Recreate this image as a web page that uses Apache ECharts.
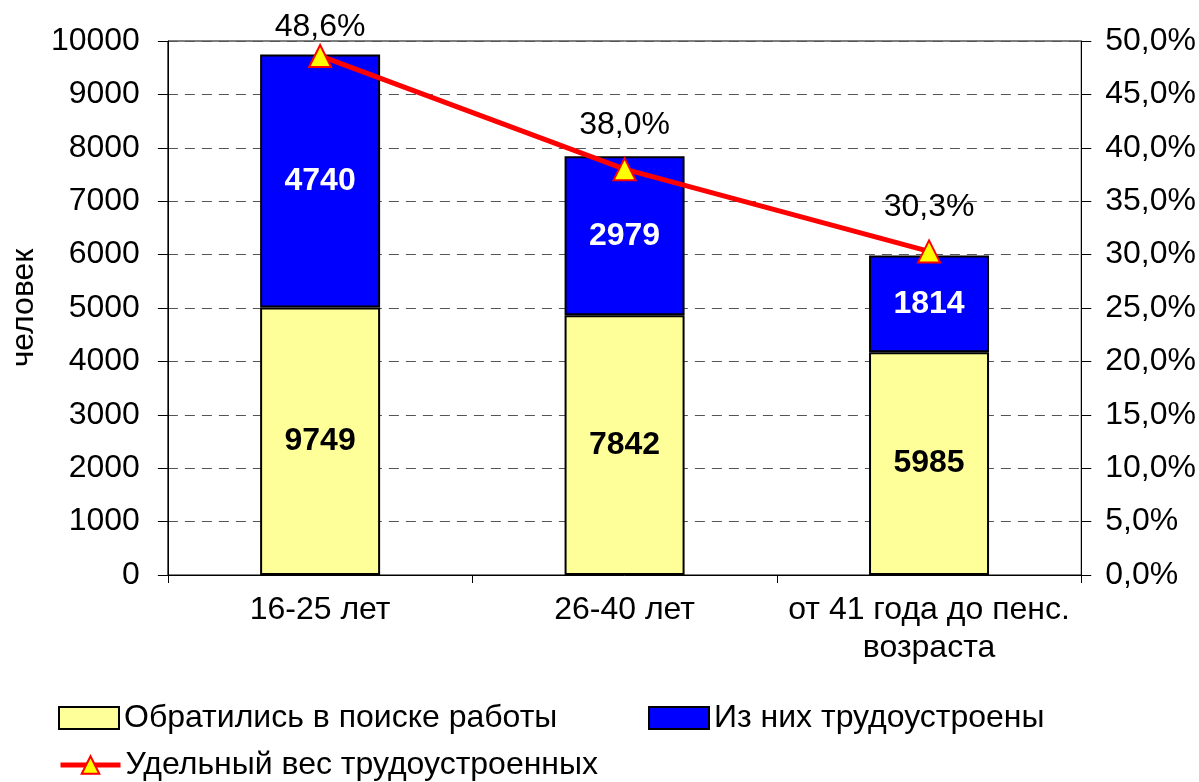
<!DOCTYPE html>
<html>
<head>
<meta charset="utf-8">
<script src="https://cdn.jsdelivr.net/npm/echarts@6/dist/echarts.min.js"></script>
<style>
  html, body { margin: 0; padding: 0; background: #fff; }
  #chart { width: 1199px; height: 782px; }
</style>
</head>
<body>
<div id="chart"></div>
<script>
const categories = ['16-25 лет', '26-40 лет', 'от 41 года до пенс.\nвозраста']
const applied = [9749, 7842, 5985]   // обратились (всего)
const employed = [4740, 2979, 1814]  // из них трудоустроены
const share = [48.6, 38.0, 30.3]     // удельный вес, %

const font = 'Liberation Sans, Arial, sans-serif'
const fs = 32
const fmtPct = (v) => v.toFixed(1).replace('.', ',') + '%'

// нижняя часть столбца = всего минус трудоустроенные
const restPart = applied.map((v, i) => v - employed[i])

const chart = echarts.init(document.getElementById('chart'))

const legendBase = {
    orient: 'horizontal',
    padding: 0,
    itemWidth: 60,
    itemHeight: 22,
    itemGap: 0,
    textStyle: { fontFamily: font, fontSize: fs, color: '#000' }
}

chart.setOption({
    backgroundColor: '#fff',
    animation: false,
    textStyle: { fontFamily: font },
    grid: {
        left: 166, right: 117, top: 41, bottom: 207,
        show: true, borderColor: '#000', borderWidth: 1
    },
    legend: [
        Object.assign({}, legendBase, { left: 58, top: 702, icon: 'rect', data: ['Обратились в поиске работы'] }),
        Object.assign({}, legendBase, { left: 648, top: 702, icon: 'rect', data: ['Из них трудоустроены'] }),
        Object.assign({}, legendBase, {
            left: 58, top: 749, data: ['Удельный вес трудоустроенных'],
            lineStyle: { width: 5 }
        })
    ],
    xAxis: {
        type: 'category',
        data: categories,
        axisLine: { lineStyle: { color: '#000', width: 1 } },
        axisTick: { show: true, length: 8, lineStyle: { color: '#000' } },
        axisLabel: { color: '#000', fontSize: fs, margin: 16, lineHeight: 38, interval: 0 }
    },
    yAxis: [
        {
            type: 'value',
            min: 0, max: 10000, interval: 1000,
            name: 'человек',
            nameLocation: 'middle',
            nameGap: 124,
            nameRotate: 90,
            nameTextStyle: { color: '#000', fontSize: fs },
            axisLine: { show: true, lineStyle: { color: '#000' } },
            axisTick: { show: true, length: 10, lineStyle: { color: '#000' } },
            axisLabel: { color: '#000', fontSize: fs, margin: 28, formatter: (v) => String(v) },
            splitLine: { show: true, lineStyle: { color: '#555', type: [10, 7], width: 1 } }
        },
        {
            type: 'value',
            min: 0, max: 50, interval: 5,
            position: 'right',
            axisLine: { show: true, lineStyle: { color: '#000' } },
            axisTick: { show: true, length: 10, lineStyle: { color: '#000' } },
            axisLabel: { color: '#000', fontSize: fs, margin: 24, formatter: (v) => fmtPct(v) },
            splitLine: { show: false }
        }
    ],
    series: [
        {
            name: 'Обратились в поиске работы',
            type: 'bar',
            stack: 'total',
            barWidth: 120,
            data: restPart,
            itemStyle: { color: '#FFFF99', borderColor: '#000', borderWidth: 2 },
            label: {
                show: true, position: 'inside',
                formatter: (p) => applied[p.dataIndex],
                color: '#000', fontSize: fs, fontWeight: 'bold'
            }
        },
        {
            name: 'Из них трудоустроены',
            type: 'bar',
            stack: 'total',
            barWidth: 120,
            data: employed,
            itemStyle: { color: '#0000FF', borderColor: '#000', borderWidth: 2 },
            label: {
                show: true, position: 'inside',
                color: '#fff', fontSize: fs, fontWeight: 'bold'
            }
        },
        {
            name: 'Удельный вес трудоустроенных',
            type: 'line',
            yAxisIndex: 1,
            data: share.map((v, i) => ({
                value: v,
                label: { distance: i === 0 ? 1 : 16 }
            })),
            symbol: 'triangle',
            symbolSize: 22,
            lineStyle: { color: '#FF0000', width: 5 },
            itemStyle: { color: '#FFFF00', borderColor: '#FF0000', borderWidth: 2 },
            label: {
                show: true, position: 'top',
                formatter: (p) => fmtPct(p.value),
                color: '#000', fontSize: fs
            },
            z: 5
        }
    ]
})
</script>
</body>
</html>
